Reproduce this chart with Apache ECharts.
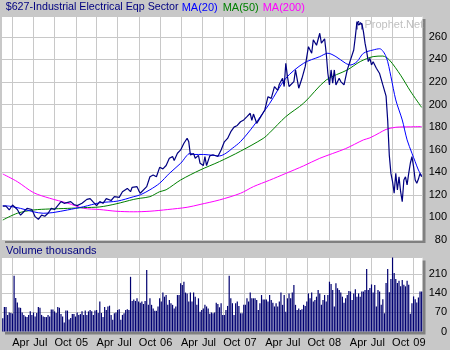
<!DOCTYPE html>
<html>
<head>
<meta charset="utf-8">
<script src="https://cdn.jsdelivr.net/npm/echarts@6/dist/echarts.min.js"></script>
<style>
  html, body { margin: 0; padding: 0; background: #c8c8c8; }
  #chart { width: 450px; height: 350px; }
</style>
</head>
<body>
<div id="chart"></div>
<script>
// Weekly sector chart: price, moving averages and weekly volume.
const DAY = 86400000;
const FIRST_WEEK = '2004-02-20';           // first weekly bar (Friday)
const X_START = '2004-02-16T16:00:00Z';
const X_END = '2009-02-09T16:00:00Z';

// Quarterly gridlines and their labels
const QUARTER_TICKS = [
  '2004-04-01', '2004-07-01', '2004-10-01', '2005-01-01',
  '2005-04-01', '2005-07-01', '2005-10-01', '2006-01-01',
  '2006-04-01', '2006-07-01', '2006-10-01', '2007-01-01',
  '2007-04-01', '2007-07-01', '2007-10-01', '2008-01-01',
  '2008-04-01', '2008-07-01', '2008-10-01', '2009-01-01'
];
const QUARTER_LABELS = [
  'Apr', 'Jul', 'Oct', '05', 'Apr', 'Jul', 'Oct', '06', 'Apr', 'Jul',
  'Oct', '07', 'Apr', 'Jul', 'Oct', '08', 'Apr', 'Jul', 'Oct', '09'
];

// [week number, value] – week 0 is FIRST_WEEK
const PRICE = [
  [0,110],[2,110],[4,106.6],[6,111],[9,107],[11,102],[13,105],[15,108],[18,107],[20,100.7],
  [22,98.3],[24,102],[26,101],[28,103.7],[30,108],[32,107],[34,110.5],[36,114],[38,112.5],[42,114],
  [44,111.5],[46,110.5],[49,112.5],[52,116],[54,116.7],[56,113.5],[58,110.4],[60,114],[62,112.5],[64,116.7],
  [67,115],[69,118.4],[72,117.8],[74,122.8],[77,125.7],[79,122.8],[80,126.7],[83,127.3],[84,124],[85,121.4],
  [86,120],[89,127.3],[91,136],[93,137.6],[95,136],[97,144.4],[99,143],[101,146],[103,152.4],[105,153.9],
  [106,150.5],[108,156.9],[110,159.8],[112,165.7],[114,170.2],[115,167],[116,155.4],[118,156.5],[119,152.4],[121,155],
  [122,148],[124,146],[125,153.9],[126,146],[128,154.5],[130,155.5],[131,154.5],[133,154],[135,159.8],[137,167],
  [139,170],[141,176],[143,180],[145,181.5],[147,184.8],[149,186.4],[151,189.3],[153,192.3],[154,186],[155,191.6],
  [157,183.4],[159,188],[160,186.4],[162,195.2],[164,207],[166,205.5],[168,215.9],[170,212.6],[171,218],[173,223.3],
  [174,216],[175,236.6],[176,225],[177,216],[180,220.4],[181,230.7],[183,214.5],[185,223.3],[187,233.6],[188,242.5],
  [189,251.3],[191,245.5],[192,257.3],[194,252.6],[196,263.2],[197,254.4],[199,258.3],[200,245.5],[201,227.8],[202,217.4],
  [203,230.7],[204,219],[205,230.7],[206,217.4],[208,223.3],[209,220.4],[211,217.4],[213,230.7],[215,239.6],[217,248.4],
  [218,260.2],[219,273.5],[220,270.6],[222,272],[223,264.6],[224,254.4],[225,247],[226,238.1],[227,241],[228,235.1],
  [229,238],[231,232.2],[233,227.5],[235,217.4],[237,207.5],[238,186],[239,155],[240,139],[241,131.7],[242,121.4],
  [243,139],[244,124.3],[245,136],[246,122.8],[247,114],[248,133.2],[249,136],[250,128.8],[251,139],[252,148],
  [253,153.8],[254,145],[255,133.2],[256,130.3],[257,134],[258,139],[259,136]
];

const MA20 = [
  [0,110.4],[4,110],[11,108],[19,105],[25,103.7],[31,104.3],[40,106.6],[50,109.5],[60,113],[71,114.5],
  [81,118.4],[85,120],[91,124.5],[97,130.3],[103,139],[110,148],[116,156.9],[118,155.8],[124,155.8],[130,155],
  [134,154.5],[138,156.9],[142,161.3],[147,167.2],[155,181],[165,201],[175,223.3],[186,236.6],[196,242.5],[201,245.5],
  [206,242.5],[212,236.6],[215,235.1],[219,238],[223,245.5],[229,248.4],[233,249.5],[237,242.5],[240,224.8],[243,204.1],
  [247,186.4],[250,168.7],[253,156.9],[255,149.4],[257,142],[259,137]
];

const MA50 = [
  [0,97.7],[9,103.7],[19,106.6],[29,107.5],[40,108],[50,108.7],[60,109.3],[70,112],[81,116],[85,117],
  [91,118.4],[97,122.8],[101,124.5],[110,133.2],[122,142],[134,149.5],[147,158.7],[161,170],[165,175],[175,189.3],
  [186,201.2],[200,221.8],[213,230.7],[221,238.1],[229,242.5],[235,243],[239,239.6],[246,226],[252,212],[259,197.5]
];

const MA200 = [
  [0,138.5],[9,131.7],[19,122],[29,117],[40,112.7],[50,108.1],[60,107],[70,105.5],[81,105],[91,105.5],
  [102,107],[114,109],[122,111.5],[134,115.5],[147,121.4],[155,127.3],[165,133],[175,139],[186,145.7],[196,152.4],
  [212,161],[223,168.7],[227,170.5],[233,175],[237,178],[243,179.9],[252,180.3],[259,180.5]
];

// Weekly volume (thousands), one value per week from FIRST_WEEK
const VOLUME = [
  49, 90, 90, 61, 70, 68,
  66, 205, 123, 107, 88, 87, 70, 61, 55, 53, 61, 74, 61,
  70, 55, 68, 90, 87, 61, 55, 53, 53, 61, 55, 81, 81,
  74, 68, 90, 87, 64, 55, 33, 77, 77, 44, 50, 64, 64, 55,
  70, 61, 64, 74, 61, 77, 61, 74, 79, 74, 61, 77,
  79, 68, 110, 68, 53, 90, 79, 92, 95, 61, 43, 67, 70,
  79, 82, 43, 61, 67, 79, 82, 79, 201, 112, 118, 112, 122, 110,
  106, 110, 101, 112, 226, 98, 122, 98, 85, 76, 76, 92, 122,
  110, 143, 128, 134, 98, 116, 104, 98, 85, 92, 134, 134, 177,
  171, 183, 143, 140, 110, 143, 110, 143, 128, 98, 122, 73, 79,
  85, 98, 92, 85, 65, 70, 67, 70, 106, 101, 89, 104, 61,
  61, 79, 94, 205, 122, 104, 61, 104, 110, 94, 67, 67, 98,
  98, 122, 110, 143, 122, 122, 122, 116, 79, 104, 134, 118, 118,
  118, 110, 134, 116, 106, 92, 104, 92, 110, 143, 98, 134, 73,
  122, 140, 122, 143, 171, 98, 79, 85, 79, 82, 98, 94, 110,
  140, 122, 143, 110, 116, 128, 153, 140, 98, 116, 134, 110, 134,
  183, 175, 153, 92, 177, 159, 153, 143, 128, 106, 122, 134, 149,
  147, 116, 140, 155, 128, 140, 128, 147, 147, 153, 230, 153, 160,
  173, 143, 171, 92, 153, 147, 98, 119, 67, 178, 230, 144, 193,
  275, 215, 193, 178, 187, 166, 189, 172, 166, 187, 172, 65, 104,
  129, 119, 107, 125, 147, 147
];

const t0 = new Date(FIRST_WEEK).getTime();
const weekTime = w => t0 + w * 7 * DAY;
const toSeries = pts => pts.map(p => [weekTime(p[0]), p[1]]);
const tickTimes = QUARTER_TICKS.map(s => new Date(s).getTime());
const xMin = new Date(X_START).getTime();
const xMax = new Date(X_END).getTime();

const FONT = '"Liberation Sans", Arial, sans-serif';
const GRID_COLOR = '#c8c8c8';
const splitLine = { show: true, lineStyle: { color: GRID_COLOR, width: 1 } };

const plotBox = {
  show: true, backgroundColor: '#ffffff', borderWidth: 0,
  shadowColor: '#808080', shadowBlur: 0, shadowOffsetX: 3, shadowOffsetY: 3
};

// Date axis built on a numeric scale so quarter starts can be placed exactly
function dateAxis(gridIndex, withLabels) {
  return {
    type: 'value', gridIndex: gridIndex, min: xMin, max: xMax,
    axisLine: { show: false },
    axisTick: { show: false, customValues: tickTimes },
    axisLabel: {
      show: withLabels, customValues: tickTimes,
      formatter: v => {
        const i = tickTimes.indexOf(v);
        return i >= 0 ? QUARTER_LABELS[i] : '';
      },
      align: 'left', margin: 6, color: '#000', fontSize: 11, fontFamily: FONT,
      hideOverlap: false
    },
    splitLine: splitLine
  };
}

const chart = echarts.init(document.getElementById('chart'));
chart.setOption({
  animation: false,
  backgroundColor: '#c8c8c8',
  grid: [
    Object.assign({ left: 2, right: 27.5, top: 16, bottom: 110 }, plotBox),
    Object.assign({ left: 2, right: 27.5, top: 257.5, bottom: 18.5 }, plotBox)
  ],
  xAxis: [dateAxis(0, false), dateAxis(1, true)],
  yAxis: [
    {
      type: 'value', gridIndex: 0, position: 'right',
      min: 80, max: 278.5, interval: 20,
      axisLine: { show: false }, axisTick: { show: false },
      axisLabel: {
        align: 'right', margin: 24.5, color: '#000', fontSize: 11, fontFamily: FONT,
        showMaxLabel: false
      },
      splitLine: splitLine
    },
    {
      type: 'value', gridIndex: 1, position: 'right',
      min: 0, max: 272, interval: 70,
      axisLine: { show: false }, axisTick: { show: false },
      axisLabel: {
        align: 'right', margin: 24.5, color: '#000', fontSize: 11, fontFamily: FONT,
        showMaxLabel: false
      },
      splitLine: splitLine
    }
  ],
  series: [
    {
      name: 'MA(200)', type: 'line', xAxisIndex: 0, yAxisIndex: 0,
      data: toSeries(MA200), showSymbol: false, smooth: 0.3,
      lineStyle: { color: '#ff00ff', width: 1 }, z: 3
    },
    {
      name: 'MA(50)', type: 'line', xAxisIndex: 0, yAxisIndex: 0,
      data: toSeries(MA50), showSymbol: false, smooth: 0.3,
      lineStyle: { color: '#008000', width: 1 }, z: 3
    },
    {
      name: 'MA(20)', type: 'line', xAxisIndex: 0, yAxisIndex: 0,
      data: toSeries(MA20), showSymbol: false, smooth: 0.3,
      lineStyle: { color: '#0000ff', width: 1 }, z: 3
    },
    {
      name: 'Price', type: 'line', xAxisIndex: 0, yAxisIndex: 0,
      data: toSeries(PRICE), showSymbol: false,
      lineStyle: { color: '#000080', width: 1.2 }, z: 4
    },
    {
      name: 'Volume', type: 'bar', xAxisIndex: 1, yAxisIndex: 1,
      data: VOLUME.map((v, i) => [weekTime(i), v]),
      barWidth: 1.2, itemStyle: { color: '#000070' }, z: 3
    }
  ],
  graphic: [
    {
      type: 'text', x: 5.7, y: 7.5, z: 10,
      style: { text: '$627-Industrial Electrical Eqp Sector', fill: '#000080',
               font: '10.7px ' + FONT, verticalAlign: 'middle' }
    },
    {
      type: 'text', x: 181.7, y: 7.5, z: 10,
      style: { text: 'MA(20)', fill: '#0000ff', font: '11px ' + FONT, verticalAlign: 'middle' }
    },
    {
      type: 'text', x: 222.7, y: 7.5, z: 10,
      style: { text: 'MA(50)', fill: '#008000', font: '11px ' + FONT, verticalAlign: 'middle' }
    },
    {
      type: 'text', x: 262.7, y: 7.5, z: 10,
      style: { text: 'MA(200)', fill: '#ff00ff', font: '11px ' + FONT, verticalAlign: 'middle' }
    },
    {
      type: 'text', x: 6, y: 250.7, z: 10,
      style: { text: 'Volume thousands', fill: '#000080', font: '11px ' + FONT, verticalAlign: 'middle' }
    },
    {
      type: 'text', x: 364.5, y: 25, z: 1,
      style: { text: 'Prophet.Net', fill: '#c0c0c0', font: '11px ' + FONT, verticalAlign: 'middle' }
    },
    {
      type: 'polyline', z: 1,
      shape: { points: [[357, 29.5], [357, 24], [358.5, 21], [359.5, 24.5], [360.5, 22.5], [362, 25], [362, 29.5]] },
      style: { stroke: '#000080', fill: null, lineWidth: 1 }
    }
  ]
});
</script>
</body>
</html>
